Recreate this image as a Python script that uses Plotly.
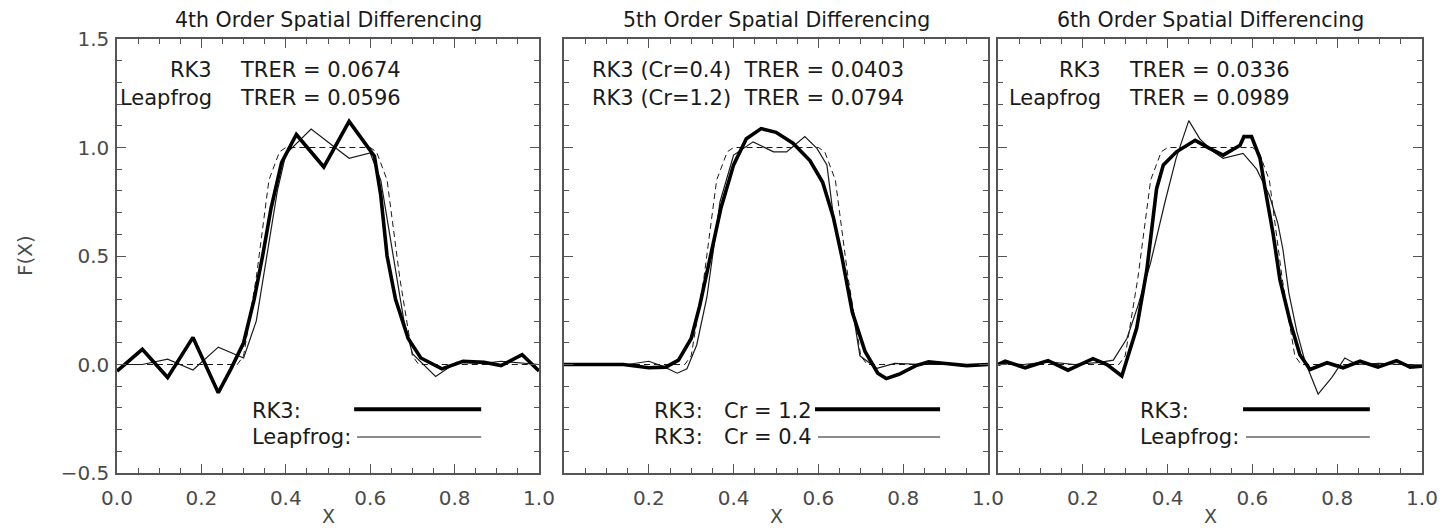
import plotly.graph_objects as go

W, H = 1447, 530
OFF = 8  # the page body adds an 8px margin round the plot div

# exact solution (dashed), same in every panel
exact_x = [0, 0.285, 0.30, 0.33, 0.36, 0.385, 0.40, 0.60, 0.615, 0.64, 0.67, 0.70, 0.715, 1.0]
exact_y = [0, 0, 0.04, 0.40, 0.85, 0.98, 1.0, 1.0, 0.98, 0.85, 0.40, 0.04, 0, 0]

# 4th order: RK3 (thick), Leapfrog (thin)
p4_rk3_x = [0, 0.06, 0.12, 0.18, 0.24, 0.27, 0.30, 0.325, 0.345, 0.365, 0.39, 0.425, 0.49, 0.55,
            0.61, 0.625, 0.64, 0.66, 0.69, 0.72, 0.77, 0.82, 0.87, 0.91, 0.96, 1.0]
p4_rk3_y = [-0.03, 0.07, -0.06, 0.125, -0.13, -0.02, 0.10, 0.30, 0.50, 0.72, 0.93, 1.06, 0.91, 1.12,
            0.96, 0.78, 0.50, 0.30, 0.12, 0.03, -0.02, 0.015, 0.01, -0.005, 0.045, -0.03]
p4_lf_x = [0, 0.06, 0.12, 0.18, 0.24, 0.30, 0.33, 0.355, 0.38, 0.40, 0.46, 0.55, 0.60, 0.625,
           0.655, 0.68, 0.70, 0.755, 0.805, 0.87, 0.91, 0.96, 1.0]
p4_lf_y = [0.0, 0.0, 0.025, -0.025, 0.08, 0.03, 0.2, 0.5, 0.80, 0.97, 1.085, 0.95, 0.975, 0.85,
           0.5, 0.2, 0.05, -0.055, 0.01, 0.005, 0.015, 0.005, 0.0]

# 5th order: RK3 Cr=1.2 (thick), RK3 Cr=0.4 (thin)
p5_c12_x = [0, 0.14, 0.20, 0.24, 0.27, 0.30, 0.32, 0.345, 0.37, 0.40, 0.43, 0.465, 0.50, 0.54, 0.58,
            0.61, 0.635, 0.655, 0.68, 0.71, 0.74, 0.76, 0.79, 0.83, 0.86, 0.90, 0.95, 1.0]
p5_c12_y = [0, 0, -0.015, -0.012, 0.02, 0.12, 0.27, 0.5, 0.72, 0.92, 1.04, 1.087, 1.07, 1.02, 0.94,
            0.84, 0.68, 0.5, 0.24, 0.06, -0.04, -0.065, -0.045, -0.005, 0.012, 0.005, -0.005, 0]
p5_c04_x = [0, 0.15, 0.20, 0.235, 0.267, 0.29, 0.313, 0.337, 0.368, 0.40, 0.446, 0.494, 0.525, 0.568,
            0.597, 0.62, 0.635, 0.655, 0.675, 0.698, 0.738, 0.78, 0.85, 1.0]
p5_c04_y = [0, 0, 0.015, -0.01, -0.04, -0.02, 0.09, 0.31, 0.75, 0.965, 1.026, 0.98, 0.98, 1.05,
            0.995, 0.92, 0.69, 0.5, 0.32, 0.04, -0.018, 0.005, 0.0, 0.0]

# 6th order: RK3 (thick), Leapfrog (thin)
p6_rk3_x = [0, 0.017, 0.064, 0.118, 0.165, 0.224, 0.257, 0.292, 0.327, 0.351, 0.374, 0.39, 0.421,
            0.465, 0.50, 0.531, 0.571, 0.58, 0.598, 0.618, 0.63, 0.649, 0.665, 0.689, 0.712, 0.736,
            0.776, 0.814, 0.854, 0.896, 0.94, 0.972, 1.0]
p6_rk3_y = [0.0, 0.015, -0.015, 0.018, -0.026, 0.027, 0.0, -0.053, 0.167, 0.435, 0.81, 0.92, 0.98,
            1.033, 0.995, 0.965, 1.01, 1.05, 1.05, 0.95, 0.81, 0.6, 0.39, 0.197, 0.045, -0.023,
            0.008, -0.015, 0.015, -0.012, 0.018, -0.012, -0.008]
p6_lf_x = [0, 0.06, 0.12, 0.18, 0.24, 0.272, 0.304, 0.33, 0.36, 0.38, 0.394, 0.42, 0.45, 0.476,
           0.508, 0.531, 0.578, 0.61, 0.64, 0.66, 0.672, 0.686, 0.705, 0.724, 0.755, 0.787, 0.818,
           0.846, 0.9, 0.95, 1.0]
p6_lf_y = [0.005, 0.0, 0.012, 0.0, 0.01, 0.02, 0.12, 0.27, 0.47, 0.64, 0.75, 0.95, 1.124, 1.04,
           0.98, 0.95, 0.973, 0.9, 0.78, 0.65, 0.53, 0.33, 0.15, 0.015, -0.136, -0.06, 0.03,
           0.0, 0.005, 0.0, 0.0]

titles = ["4th Order Spatial Differencing", "5th Order Spatial Differencing",
          "6th Order Spatial Differencing"]
x_ticks = [0.0, 0.2, 0.4, 0.6, 0.8, 1.0]
y_ticks = [-0.5, 0.0, 0.5, 1.0, 1.5]
y_ticktext = ["\u22120.5", "0.0", "0.5", "1.0", "1.5"]

FONT = "DejaVu Sans"
INK = "#1a1a1a"
AXC = "#555555"
LBL = "#4a4a4a"

# panel positions in page pixels (left, right), shared top/bottom
panels_px = [(117, 539), (564, 988), (998, 1422)]
top_px, bot_px = 39, 473


def px_x(p):
    return (p - OFF) / W


def px_y(p):
    return 1 - (p - OFF) / H


fig = go.Figure()

series = [
    (p4_rk3_x, p4_rk3_y, p4_lf_x, p4_lf_y),
    (p5_c12_x, p5_c12_y, p5_c04_x, p5_c04_y),
    (p6_rk3_x, p6_rk3_y, p6_lf_x, p6_lf_y),
]

for i, (tx, ty, nx, ny) in enumerate(series):
    xa = "x" if i == 0 else f"x{i + 1}"
    ya = "y" if i == 0 else f"y{i + 1}"
    fig.add_trace(go.Scatter(x=exact_x, y=exact_y, mode="lines", xaxis=xa, yaxis=ya,
                             line=dict(color=INK, width=1, dash="6px,4px"), showlegend=False))
    fig.add_trace(go.Scatter(x=nx, y=ny, mode="lines", xaxis=xa, yaxis=ya,
                             line=dict(color=INK, width=1.2), showlegend=False))
    fig.add_trace(go.Scatter(x=tx, y=ty, mode="lines", xaxis=xa, yaxis=ya,
                             line=dict(color="#000000", width=3.6), showlegend=False))

layout = dict(width=W, height=H, autosize=False, showlegend=False,
              margin=dict(l=0, r=0, t=0, b=0, pad=0, autoexpand=False),
              plot_bgcolor="white", paper_bgcolor="white",
              font=dict(family=FONT, color=INK, size=20))

ydom = [px_y(bot_px), px_y(top_px)]
for i, (l, r) in enumerate(panels_px):
    sfx = "" if i == 0 else str(i + 1)
    tv = x_ticks if i == 0 else x_ticks[1:]
    layout["xaxis" + sfx] = dict(
        domain=[px_x(l), px_x(r)], range=[0, 1], anchor="y" + sfx,
        tickvals=tv, ticktext=[f"{v:.1f}" for v in tv],
        ticks="inside", ticklen=9, tickwidth=1.2, tickcolor=AXC,
        minor=dict(dtick=0.05, ticks="inside", ticklen=5, tickwidth=1, tickcolor=AXC),
        showline=True, linecolor=AXC, linewidth=1.5, mirror="ticks",
        showgrid=False, zeroline=False, ticklabelstandoff=6, automargin=False,
        tickfont=dict(family=FONT, size=20, color=LBL))
    layout["yaxis" + sfx] = dict(
        domain=ydom, range=[-0.5, 1.5], anchor="x" + sfx,
        tickvals=y_ticks, ticktext=y_ticktext, showticklabels=(i == 0),
        ticks="inside", ticklen=9, tickwidth=1.2, tickcolor=AXC,
        minor=dict(dtick=0.1, ticks="inside", ticklen=5, tickwidth=1, tickcolor=AXC),
        showline=True, linecolor=AXC, linewidth=1.5, mirror="ticks",
        showgrid=False, zeroline=False, ticklabelstandoff=2, automargin=False,
        tickfont=dict(family=FONT, size=20, color=LBL))

fig.update_layout(**layout)

ann = []
for i, (l, r) in enumerate(panels_px):
    cx = px_x((l + r) / 2)
    ann.append(dict(text=titles[i], x=cx, y=px_y(20), xref="paper", yref="paper",
                    showarrow=False, xanchor="center", yanchor="middle",
                    font=dict(size=20.5, color=INK)))
    ann.append(dict(text="X", x=cx, y=px_y(516), xref="paper", yref="paper",
                    showarrow=False, xanchor="center", yanchor="middle",
                    font=dict(size=19, color=LBL)))
ann.append(dict(text="F(X)", x=px_x(25), y=px_y(256), xref="paper", yref="paper",
                showarrow=False, textangle=-90, xanchor="center", yanchor="middle",
                font=dict(size=20, color=LBL)))


def txt(ref, x, y, s, anchor="left"):
    ann.append(dict(text=s, x=x, y=y, xref=f"{ref} domain", yref=f"{ref.replace('x', 'y')} domain",
                    showarrow=False, xanchor=anchor, yanchor="middle",
                    font=dict(size=21, color=INK)))


# upper-left labels
txt("x", 0.231, 0.929, "RK3", "right")
txt("x", 0.286, 0.929, "TRER = 0.0674")
txt("x", 0.231, 0.864, "Leapfrog", "right")
txt("x", 0.286, 0.864, "TRER = 0.0596")
txt("x2", 0.061, 0.929, "RK3 (Cr=0.4)  TRER = 0.0403")
txt("x2", 0.061, 0.864, "RK3 (Cr=1.2)  TRER = 0.0794")
txt("x3", 0.248, 0.929, "RK3", "right")
txt("x3", 0.304, 0.929, "TRER = 0.0336")
txt("x3", 0.248, 0.864, "Leapfrog", "right")
txt("x3", 0.304, 0.864, "TRER = 0.0989")

# line keys at the bottom
txt("x", 0.315, 0.143, "RK3:")
txt("x", 0.315, 0.083, "Leapfrog:")
txt("x2", 0.208, 0.143, "RK3:")
txt("x2", 0.373, 0.143, "Cr = 1.2")
txt("x2", 0.208, 0.083, "RK3:")
txt("x2", 0.373, 0.083, "Cr = 0.4")
txt("x3", 0.330, 0.143, "RK3:")
txt("x3", 0.330, 0.083, "Leapfrog:")

shapes = []
keys = [("x", 0.562, 0.863), ("x2", 0.592, 0.887), ("x3", 0.578, 0.877)]
for ref, a, b in keys:
    yref = ref.replace("x", "y") + " domain"
    shapes.append(dict(type="line", xref=f"{ref} domain", yref=yref, x0=a, x1=b, y0=0.147, y1=0.147,
                       line=dict(color="#000000", width=4)))
    shapes.append(dict(type="line", xref=f"{ref} domain", yref=yref, x0=a + 0.007, x1=b, y0=0.083,
                       y1=0.083, line=dict(color=INK, width=1.2)))

fig.update_layout(annotations=ann, shapes=shapes)
fig.write_html("out.html", config=dict(responsive=False, displayModeBar=False))
